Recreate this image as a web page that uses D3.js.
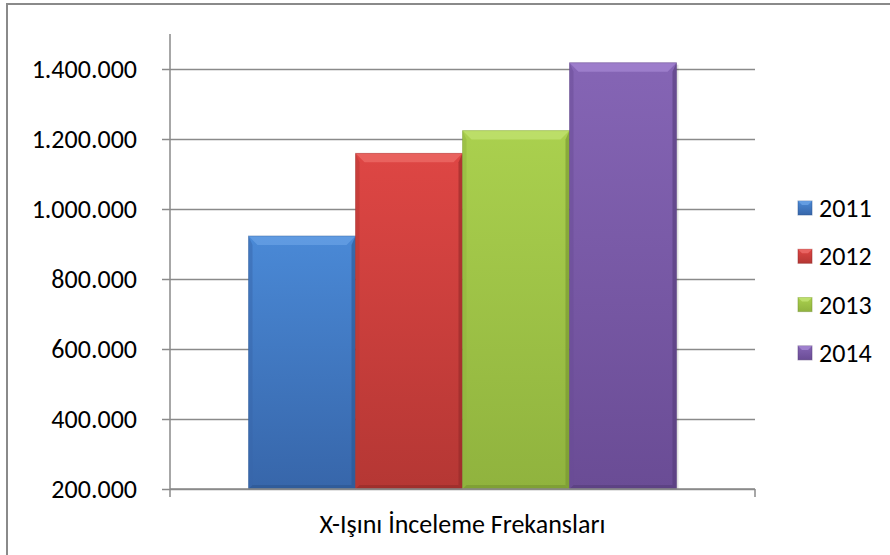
<!DOCTYPE html>
<html>
<head>
<meta charset="utf-8">
<script src="https://cdn.jsdelivr.net/npm/d3@7"></script>
<style>
  body { margin: 0; background: #fff; }
  svg { display: block; font-family: Carlito, Calibri, Lato, sans-serif; }
</style>
</head>
<body>
<div id="chart"></div>
<script>
// values
const category = 'X-Işını İnceleme Frekansları'
const years = ['2011', '2012', '2013', '2014']
const values = [923000, 1159000, 1224000, 1418000]
const yTicks = [200000, 400000, 600000, 800000, 1000000, 1200000, 1400000]
const yDomain = [200000, 1500000]

// bar colours: [top, bottom, light edge, dark edge]
const colors = {
  '2011': ['#4a89d6', '#3766aa', '#6aa3e6', '#2c5590'],
  '2012': ['#de4644', '#b53734', '#ee6d6a', '#922a28'],
  '2013': ['#aad04e', '#90b33e', '#c3e474', '#749230'],
  '2014': ['#8565b5', '#6a4c95', '#a688d4', '#553c7a']
}

const width = 890, height = 555
const plot = { left: 170, right: 755, top: 34, bottom: 489 }
const fontSize = '26px'

const svg = d3.select('#chart').append('svg')
  .attr('width', width)
  .attr('height', height)

// outer frame
svg.append('rect')
  .attr('x', 7).attr('y', 4)
  .attr('width', 950).attr('height', 650)
  .attr('fill', 'none')
  .attr('stroke', '#8a8a8a')
  .attr('stroke-width', 2)

const y = d3.scaleLinear().domain(yDomain).range([plot.bottom, plot.top])

const x0 = d3.scaleBand().domain([category])
  .range([plot.left, plot.right])
  .paddingOuter(0.1834)
const x1 = d3.scaleBand().domain(years).range([0, x0.bandwidth()])

const trFormat = d3.formatLocale({ decimal: ',', thousands: '.', grouping: [3], currency: ['', ''] }).format(',d')

// gridlines
svg.append('g')
  .attr('transform', `translate(${plot.left},0)`)
  .call(d3.axisLeft(y).tickValues(yTicks).tickSize(-(plot.right - plot.left)).tickFormat(''))
  .call(g => g.select('.domain').remove())
  .selectAll('line').attr('stroke', '#8a8a8a').attr('stroke-width', 1.5)

// gradients
const defs = svg.append('defs')
years.forEach(yr => {
  const c = colors[yr]
  const gr = defs.append('linearGradient').attr('id', 'g' + yr)
    .attr('x1', 0).attr('y1', 0).attr('x2', 0).attr('y2', 1)
  gr.append('stop').attr('offset', '0%').attr('stop-color', c[0])
  gr.append('stop').attr('offset', '100%').attr('stop-color', c[1])
})

// bars with a simple bevel look
const bars = svg.append('g').selectAll('g.bar')
  .data(years.map((yr, i) => ({ year: yr, value: values[i] })))
  .join('g').attr('class', 'bar')

bars.each(function (d) {
  const g = d3.select(this)
  const c = colors[d.year]
  const bx = x0(category) + x1(d.year)
  const bw = x1.bandwidth()
  const by = y(d.value)
  const bh = y(yDomain[0]) - by
  const t = 9, s = 4
  g.append('rect').attr('x', bx + 2).attr('y', by + 2).attr('width', bw).attr('height', bh - 2)
    .attr('fill', '#000').attr('opacity', 0.12)
  g.append('rect').attr('x', bx).attr('y', by).attr('width', bw).attr('height', bh)
    .attr('fill', `url(#g${d.year})`)
  // top bevel
  g.append('polygon')
    .attr('points', [[bx, by], [bx + bw, by], [bx + bw - t, by + t], [bx + t, by + t]].join(' '))
    .attr('fill', c[2]).attr('opacity', 0.7)
  // left edge
  g.append('polygon')
    .attr('points', [[bx, by], [bx + s, by + t], [bx + s, by + bh - s], [bx, by + bh]].join(' '))
    .attr('fill', c[1]).attr('opacity', 0.5)
  // right edge
  g.append('polygon')
    .attr('points', [[bx + bw, by], [bx + bw - s, by + t], [bx + bw - s, by + bh - s], [bx + bw, by + bh]].join(' '))
    .attr('fill', c[3]).attr('opacity', 0.6)
  // bottom edge
  g.append('polygon')
    .attr('points', [[bx, by + bh], [bx + s, by + bh - s], [bx + bw - s, by + bh - s], [bx + bw, by + bh]].join(' '))
    .attr('fill', c[3]).attr('opacity', 0.6)
  g.append('rect').attr('x', bx).attr('y', by).attr('width', bw).attr('height', bh)
    .attr('fill', 'none').attr('stroke', c[3]).attr('stroke-opacity', 0.35)
})

// y axis
const yAxis = svg.append('g')
  .attr('transform', `translate(${plot.left},0)`)
  .call(d3.axisLeft(y).tickValues(yTicks).tickSize(8).tickPadding(25).tickFormat(trFormat))
yAxis.select('.domain').remove()
yAxis.selectAll('line').attr('stroke', '#8a8a8a').attr('stroke-width', 1.5)
yAxis.selectAll('text').attr('fill', '#000').style('font-size', fontSize)
  .style('font-family', 'Carlito, Calibri, Lato, sans-serif')
yAxis.append('line')
  .attr('x1', 0).attr('x2', 0)
  .attr('y1', plot.top).attr('y2', plot.bottom + 8)
  .attr('stroke', '#8a8a8a').attr('stroke-width', 1.5)

// x axis
const xAxis = svg.append('g')
  .attr('transform', `translate(0,${plot.bottom})`)
xAxis.append('line')
  .attr('x1', x0.range()[0]).attr('x2', x0.range()[1])
  .attr('stroke', '#8a8a8a').attr('stroke-width', 1.5)
xAxis.selectAll('line.tick')
  .data([x0.range()[1]])
  .join('line').attr('class', 'tick')
  .attr('x1', d => d).attr('x2', d => d)
  .attr('y1', 0).attr('y2', 8)
  .attr('stroke', '#8a8a8a').attr('stroke-width', 1.5)
xAxis.append('text')
  .attr('x', x0(category) + x0.bandwidth() / 2)
  .attr('y', 44)
  .attr('text-anchor', 'middle')
  .style('font-size', fontSize)
  .text(category)

// legend
const legend = svg.append('g').attr('transform', 'translate(798,208)')
const li = legend.selectAll('g')
  .data(years)
  .join('g')
  .attr('transform', (d, i) => `translate(0,${i * 48.3})`)
li.append('rect')
  .attr('x', 0).attr('y', -7).attr('width', 14).attr('height', 14)
  .attr('fill', d => `url(#g${d})`)
  .attr('stroke', d => colors[d][3]).attr('stroke-opacity', 0.5)
li.append('polygon')
  .attr('points', '0,-7 14,-7 10,-3 4,-3')
  .attr('fill', d => colors[d][2]).attr('opacity', 0.8)
li.append('text')
  .attr('x', 21).attr('y', 0)
  .attr('dy', '0.35em')
  .style('font-size', fontSize)
  .text(d => d)
</script>
</body>
</html>
